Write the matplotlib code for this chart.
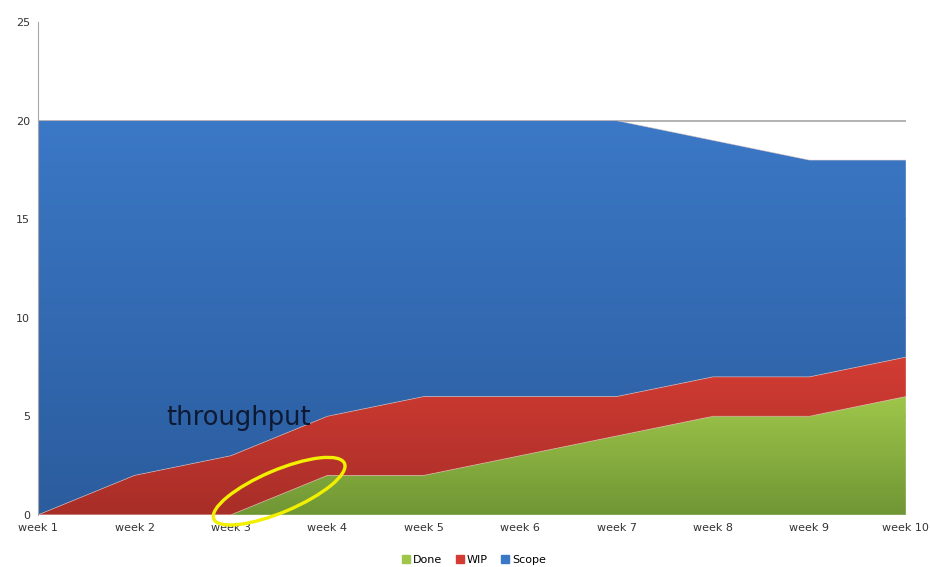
import numpy as np
import matplotlib
matplotlib.use("Agg")
import matplotlib.pyplot as plt
from matplotlib.patches import Ellipse, Patch
import matplotlib.transforms as mtransforms

# Cumulative flow data
weeks = ["week 1", "week 2", "week 3", "week 4", "week 5",
         "week 6", "week 7", "week 8", "week 9", "week 10"]
done = [0, 0, 0, 2, 2, 3, 4, 5, 5, 6]
wip = [0, 2, 3, 3, 4, 3, 2, 2, 2, 2]
scope = [20, 18, 17, 15, 14, 14, 14, 12, 11, 10]

# gradient colours (top, bottom) per series
colors = {
    "Done": ("#9fc64a", "#6f9634"),
    "WIP": ("#d23c33", "#a82e28"),
    "Scope": ("#3b78c6", "#2b5c9e"),
}

fig = plt.figure(figsize=(9.3, 5.67), dpi=100)
ax = fig.add_axes([0.041, 0.092, 0.933, 0.869])

x = np.arange(len(weeks))
lower = np.zeros(len(weeks))
layers = [("Done", done), ("WIP", wip), ("Scope", scope)]

ax.set_xlim(0, len(weeks) - 1)
ax.set_ylim(0, 25)

for name, vals in layers:
    upper = lower + np.array(vals)
    poly = ax.fill_between(x, lower, upper, color="none", zorder=2)
    top_c, bot_c = colors[name]
    grad = np.linspace(0, 1, 256).reshape(-1, 1)
    cmap = matplotlib.colors.LinearSegmentedColormap.from_list(name, [bot_c, top_c])
    im = ax.imshow(grad, cmap=cmap, origin="lower", aspect="auto",
                   extent=[0, len(weeks) - 1, 0, upper.max()], zorder=2)
    path = poly.get_paths()[0]
    im.set_clip_path(path, transform=ax.transData)
    ax.plot(x, upper, color="#e8c8c0", lw=0.6, zorder=3, alpha=0.6)
    lower = upper

# horizontal gridlines behind the areas
for yv in [5, 10, 15, 20]:
    ax.axhline(yv, color="#a6a6a6", lw=1.2, zorder=1)

ax.set_xticks(x)
ax.set_xticklabels(weeks, fontsize=8, color="#333333")
ax.set_yticks([0, 5, 10, 15, 20, 25])
ax.set_yticklabels(["0", "5", "10", "15", "20", "25"], fontsize=8, color="#333333")
ax.tick_params(length=0, pad=6)
for s in ["top", "right", "bottom"]:
    ax.spines[s].set_visible(False)
ax.spines["left"].set_color("#a6a6a6")
ax.spines["left"].set_zorder(4)

# annotation
ax.text(1.33, 4.9, "throughput", fontsize=18.5, color="#0e1a33",
        va="center", ha="left", zorder=5)
trans = fig.dpi_scale_trans + mtransforms.ScaledTranslation(2.5, 1.2, ax.transData)
ell = Ellipse((0, 0), 1.42, 0.42, angle=23, fill=False, edgecolor="#f2f000",
              lw=2.4, transform=trans, zorder=6, clip_on=False)
ax.add_patch(ell)

handles = [Patch(color=colors[n][0]) for n, _ in layers]
fig.legend(handles, [n for n, _ in layers], loc="center",
           bbox_to_anchor=(0.51, 0.012), ncol=3, frameon=False, fontsize=8,
           handlelength=0.7, handleheight=0.7, handletextpad=0.3, columnspacing=1.2)

fig.savefig("out.png", dpi=100)
